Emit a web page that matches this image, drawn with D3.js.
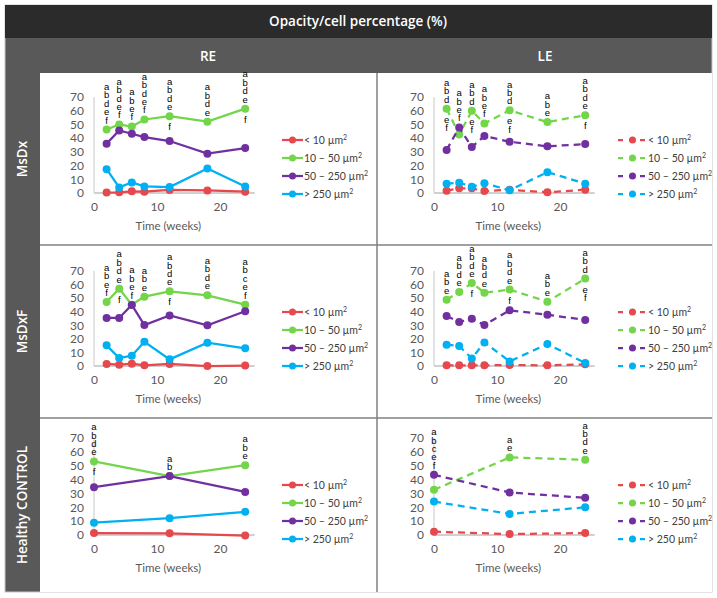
<!DOCTYPE html>
<html>
<head>
<meta charset="utf-8">
<script src="https://cdn.jsdelivr.net/npm/d3@7"></script>
<style>
  body { margin: 0; background: #fff; }
  .tick text { font-family: Lato, "Open Sans", sans-serif; font-size: 12px; fill: #595959; }
  .hdr { font-family: "Open Sans", sans-serif; font-weight: 600; fill: #fff; }
  .sig { font-family: "Liberation Sans", Arial, sans-serif; font-size: 9.5px; fill: #000; }
  .leg { font-family: Lato, "Open Sans", sans-serif; font-size: 10.5px; fill: #404040; }
  .xlab { font-family: Lato, "Open Sans", sans-serif; font-size: 11.5px; fill: #595959; }
</style>
</head>
<body>
<svg id="chart" width="717" height="598"></svg>
<script>
// time points
var weeksMs = [2, 4, 6, 8, 12, 18, 24],
    weeksCtrl = [0, 12, 24];

var sizeClasses = ["< 10 µm", "10 – 50 µm", "50 – 250 µm", "> 250 µm"];
var colors = ["#e5484d", "#72d54a", "#7030a0", "#00b0f0"];

// values per size class: [<10, 10-50, 50-250, >250]
var msdxRE = [
  [0.3, 0.5, 1.2, 1.0, 2.2, 1.9, 1.0],
  [46.3, 50.0, 48.5, 53.6, 56.0, 52.0, 61.5],
  [36.0, 45.6, 43.2, 40.8, 37.9, 28.7, 32.8],
  [17.4, 4.1, 7.7, 4.8, 4.3, 17.9, 4.8]
];
var msdxLE = [
  [1.7, 3.4, 3.4, 1.4, 2.4, 0.5, 2.4],
  [61.5, 42.7, 59.9, 50.7, 60.3, 51.7, 56.7],
  [31.4, 47.8, 33.5, 41.5, 37.4, 34.0, 35.7],
  [6.8, 7.5, 4.5, 7.2, 2.0, 15.2, 6.8]
];
var msdxfRE = [
  [1.5, 1.0, 1.7, 0.5, 1.5, 0.0, 0.3],
  [47.2, 57.0, 45.2, 51.1, 55.0, 52.1, 45.2],
  [35.4, 35.4, 45.0, 30.2, 37.3, 30.0, 40.3],
  [15.2, 5.9, 7.6, 17.9, 4.9, 17.2, 13.0]
];
var msdxfLE = [
  [0.5, 0.5, 0.5, 0.5, 0.7, 0.5, 1.2],
  [48.9, 54.5, 61.2, 54.0, 56.3, 47.4, 64.4],
  [36.8, 32.4, 34.9, 30.2, 41.0, 37.8, 33.9],
  [15.7, 14.7, 5.6, 17.4, 3.4, 16.2, 2.2]
];
var ctrlRE = [
  [1.4, 1.2, -0.4],
  [53.1, 42.5, 50.4],
  [34.5, 42.5, 31.1],
  [8.9, 12.1, 16.7]
];
var ctrlLE = [
  [2.4, 0.7, 1.4],
  [32.6, 56.0, 54.3],
  [43.4, 30.7, 26.8],
  [24.1, 15.2, 20.0]
];

// significance letters: above | below the point
var msdxREsig = ["abdef", "abdef", "abef", "abdef", "abde|f", "abde", "abde|f"];
var msdxLEsig = ["abd|ef", "abef", "abd|ef", "abef", "abd|ef", "abe", "abde|f"];
var msdxfREsig = ["abef", "abde|f", "abef", "abe", "abde|f", "abde", "abcef"];
var msdxfLEsig = ["abe", "abde", "abde|f", "abde", "abde|f", "abe", "abd|ef"];
var ctrlREsig = ["abde|f", "ab", "abe"];
var ctrlLEsig = ["abcef", "ae", "abde"];

var yTicks = [0, 10, 20, 30, 40, 50, 60, 70],
    xTicks = [0, 10, 20];

var rows = [
  {name: "MsDx", weeks: weeksMs, re: msdxRE, le: msdxLE, reSig: msdxREsig, leSig: msdxLEsig, top: 73, bottom: 245, y0: 193, y70: 97},
  {name: "MsDxF", weeks: weeksMs, re: msdxfRE, le: msdxfLE, reSig: msdxfREsig, leSig: msdxfLEsig, top: 245, bottom: 418, y0: 366, y70: 271},
  {name: "Healthy CONTROL", weeks: weeksCtrl, re: ctrlRE, le: ctrlLE, reSig: ctrlREsig, leSig: ctrlLEsig, top: 418, bottom: 592, y0: 535, y70: 438}
];

var svg = d3.select("#chart");

// frame and headers
svg.append("rect").attr("x", 5).attr("y", 5).attr("width", 707).attr("height", 587)
    .attr("fill", "#595959").attr("stroke", "#c8c8c8");
svg.append("rect").attr("x", 5).attr("y", 5).attr("width", 707).attr("height", 33).attr("fill", "#2b2b2b");
svg.append("rect").attr("x", 40).attr("y", 73).attr("width", 672).attr("height", 519).attr("fill", "#fff");

svg.append("text").attr("class", "hdr").attr("x", 358).attr("y", 26)
    .attr("text-anchor", "middle").style("font-size", "13.5px").text("Opacity/cell percentage (%)");
svg.append("text").attr("class", "hdr").attr("x", 208).attr("y", 61)
    .attr("text-anchor", "middle").style("font-size", "13.5px").text("RE");
svg.append("text").attr("class", "hdr").attr("x", 545).attr("y", 61)
    .attr("text-anchor", "middle").style("font-size", "13.5px").text("LE");

// grid lines between panels
svg.append("line").attr("x1", 377).attr("x2", 377).attr("y1", 73).attr("y2", 592)
    .attr("stroke", "#808080").attr("stroke-width", 1.5);
[245, 418].forEach(function(y) {
  svg.append("line").attr("x1", 40).attr("x2", 712).attr("y1", y).attr("y2", y)
      .attr("stroke", "#808080").attr("stroke-width", 1.5);
});

rows.forEach(function(r) {
  svg.append("text").attr("class", "hdr")
      .attr("transform", "translate(27," + ((r.top + r.bottom) / 2) + ")rotate(-90)")
      .attr("text-anchor", "middle").style("font-size", "13.5px").text(r.name);

  drawPanel(r, r.re, r.reSig, 0, false);
  drawPanel(r, r.le, r.leSig, 340, true);
});

function drawPanel(r, values, sig, dx, dashed) {
  var g = svg.append("g").attr("transform", "translate(" + dx + ",0)");

  var x = d3.scaleLinear().domain([0, 25]).range([94, 251.5]);
  var y = d3.scaleLinear().domain([0, 70]).range([r.y0, r.y70]);

  // axes
  g.append("line").attr("x1", x(0)).attr("x2", x(0)).attr("y1", y(70)).attr("y2", y(0))
      .attr("stroke", "#c8c8c8").attr("stroke-width", 1);

  var yAxis = g.append("g").attr("transform", "translate(" + x(0) + ",0)")
      .call(d3.axisLeft(y).tickValues(yTicks).tickSize(0).tickPadding(10));
  yAxis.select(".domain").remove();

  var xAxis = g.append("g").attr("transform", "translate(0," + y(0) + ")")
      .call(d3.axisBottom(x).tickValues(xTicks).tickSize(0).tickPadding(9));
  xAxis.select(".domain").remove();
  g.append("line").attr("x1", x(0)).attr("x2", x(25.5)).attr("y1", y(0)).attr("y2", y(0))
      .attr("stroke", "#d0d0d0").attr("stroke-width", 2);

  g.append("text").attr("class", "xlab").attr("x", (x(0) + x(25.5)) / 2 - 6).attr("y", y(0) + 37)
      .attr("text-anchor", "middle").text("Time (weeks)");

  var line = d3.line()
      .x(function(d, i) { return x(r.weeks[i]); })
      .y(function(d) { return y(d); });

  values.forEach(function(s, k) {
    g.append("path").datum(s)
        .attr("d", line)
        .attr("fill", "none")
        .attr("stroke", colors[k])
        .attr("stroke-width", 2.25)
        .attr("stroke-dasharray", dashed ? "7,5" : null);
    g.selectAll(".pt" + k).data(s).enter().append("circle")
        .attr("cx", function(d, i) { return x(r.weeks[i]); })
        .attr("cy", function(d) { return y(d); })
        .attr("r", 4)
        .attr("fill", colors[k]);
  });

  // significance letters, stacked above (and below) the highest point
  sig.forEach(function(s, i) {
    var top = d3.max(values, function(v) { return v[i]; });
    var py = y(top), px = x(r.weeks[i]);
    var parts = s.split("|");
    var above = parts[0].split(""), below = parts[1] ? parts[1].split("") : [];
    above.forEach(function(c, j) {
      g.append("text").attr("class", "sig").attr("x", px).attr("text-anchor", "middle")
          .attr("y", py - 6 - (above.length - 1 - j) * 8.4).text(c);
    });
    below.forEach(function(c, j) {
      g.append("text").attr("class", "sig").attr("x", px).attr("text-anchor", "middle")
          .attr("y", py + 14 + j * 8.4).text(c);
    });
  });

  // legend
  var lx0 = dashed ? 278 : 282, lx1 = dashed ? 307 : 303;
  sizeClasses.forEach(function(name, k) {
    var ly = r.top + 67 + k * 18;
    g.append("line").attr("x1", lx0).attr("x2", lx1).attr("y1", ly).attr("y2", ly)
        .attr("stroke", colors[k]).attr("stroke-width", 2.25)
        .attr("stroke-dasharray", dashed ? "5,6" : null);
    g.append("circle").attr("cx", (lx0 + lx1) / 2).attr("cy", ly).attr("r", 3.5).attr("fill", colors[k]);
    var t = g.append("text").attr("class", "leg").attr("x", lx1 + 1).attr("y", ly + 3.5).text(name);
    t.append("tspan").attr("dy", -4).style("font-size", "7px").text("2");
  });
}
</script>
</body>
</html>
